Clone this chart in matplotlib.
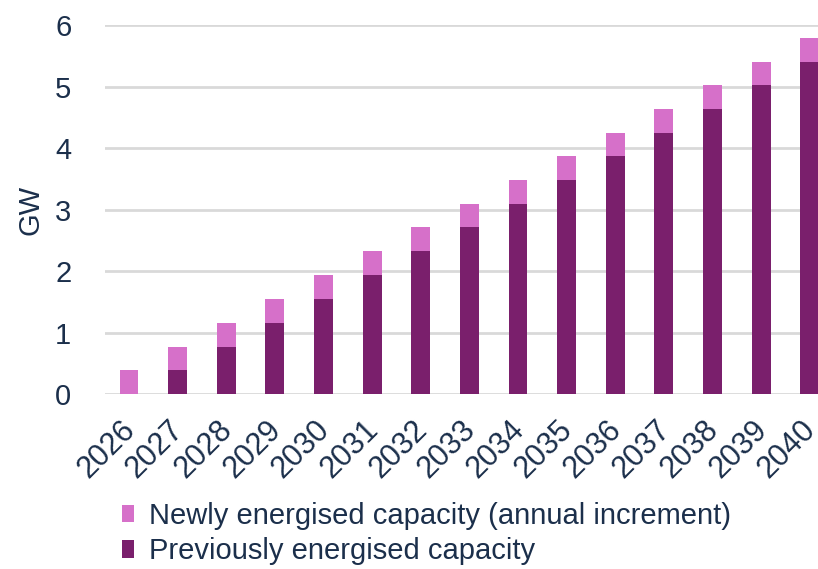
import numpy as np
import matplotlib
matplotlib.use('Agg')
import matplotlib.pyplot as plt
import matplotlib.transforms as mtransforms

plt.rcParams['font.family'] = ['Liberation Sans', 'DejaVu Sans']

years = ['2026', '2027', '2028', '2029', '2030', '2031', '2032', '2033',
         '2034', '2035', '2036', '2037', '2038', '2039', '2040']
# total energised capacity at end of each year (GW)
total = [0.39, 0.77, 1.16, 1.55, 1.93, 2.32, 2.71, 3.09,
         3.48, 3.87, 4.25, 4.64, 5.03, 5.41, 5.80]
previous = [0.0] + total[:-1]
newly = [t - p for t, p in zip(total, previous)]

TEXT = '#1B2F4B'
DARK = '#7A1F6C'
LIGHT = '#D670C9'

fig = plt.figure(figsize=(8.18, 5.69), dpi=100)
ax = fig.add_axes([0.128, 0.3076, 0.872, 0.648])

x = np.arange(len(years))
w = 0.39
ax.bar(x, previous, w, color=DARK, label='Previously energised capacity', zorder=3)
ax.bar(x, newly, w, bottom=previous, color=LIGHT,
       label='Newly energised capacity (annual increment)', zorder=3)

ax.set_ylim(0, 6)
ax.set_xlim(-0.5, 14.17)
ax.set_yticks(range(0, 7))
ax.set_xticks(x)
ax.set_xticklabels(years, rotation=45, ha='right', rotation_mode='anchor', fontsize=22)
ax.tick_params(length=0, labelsize=21, colors=TEXT)
ax.tick_params(axis='y', pad=24)
ax.tick_params(axis='x', labelsize=22, pad=15)
# nudge year labels a little to the left so 2040 stays inside the figure
shift = mtransforms.ScaledTranslation(-9 / 100, 0, fig.dpi_scale_trans)
for lab in ax.get_xticklabels():
    lab.set_transform(lab.get_transform() + shift)
ax.yaxis.grid(True, color='#D9D9D9', linewidth=2, zorder=0)
ax.set_axisbelow(True)
for s in ax.spines.values():
    s.set_visible(False)
ax.set_ylabel('GW', fontsize=21, color=TEXT, labelpad=8)

h, l = ax.get_legend_handles_labels()
fig.legend(h[::-1], l[::-1], loc='upper left', bbox_to_anchor=(0.149, 0.118),
           frameon=False, fontsize=21, labelcolor=TEXT, handlelength=0.42,
           handleheight=0.55, handletextpad=0.5, labelspacing=0.25,
           borderaxespad=0, borderpad=0)

fig.savefig('out.png', dpi=100)
